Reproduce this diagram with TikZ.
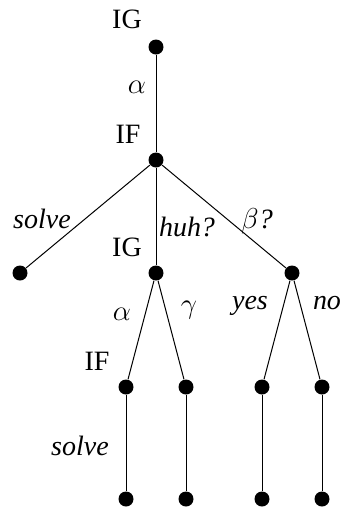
\documentclass[tikz,border=0pt]{standalone}
\usepackage{fontspec}
\setmainfont{Liberation Serif}
\begin{document}
\begin{tikzpicture}[x=0.5pt, y=-0.5pt, line width=0.5pt,
  punto/.style={circle, fill, inner sep=0pt, minimum size=7.5pt},
  etiq/.style={anchor=base, inner sep=0pt, font=\fontsize{14}{16}\selectfont}]
  \useasboundingbox (0,0) rectangle (342,510);
  % nodos
  \node[punto] (r) at (156,47) {};
  \node[punto] (a) at (156,160) {};
  \node[punto] (b1) at (20,273) {};
  \node[punto] (b2) at (156,273) {};
  \node[punto] (b3) at (292,273) {};
  \node[punto] (c1) at (126,387) {};
  \node[punto] (c2) at (186,387) {};
  \node[punto] (c3) at (262,387) {};
  \node[punto] (c4) at (322,387) {};
  \node[punto] (d1) at (126,499) {};
  \node[punto] (d2) at (186,499) {};
  \node[punto] (d3) at (262,499) {};
  \node[punto] (d4) at (322,499) {};
  % aristas
  \draw (r) -- (a);
  \draw (a) -- (b1);
  \draw (a) -- (b2);
  \draw (a) -- (b3);
  \draw (b2) -- (c1);
  \draw (b2) -- (c2);
  \draw (b3) -- (c3);
  \draw (b3) -- (c4);
  \draw (c1) -- (d1);
  \draw (c2) -- (d2);
  \draw (c3) -- (d3);
  \draw (c4) -- (d4);
  % etiquetas
  \node[etiq] (ig1) at (127,28) {IG};
  \node[etiq] (al1) at (137,93) {$\alpha$};
  \node[etiq] (if1) at (128,143) {IF};
  \node[etiq] (so1) at (42,228) {\textit{solve}};
  \node[etiq] (huh) at (187,236) {\textit{huh?}};
  \node[etiq] (be) at (257,228) {$\beta$\textit{?}};
  \node[etiq] (ig2) at (127,256) {IG};
  \node[etiq] (al2) at (122,320) {$\alpha$};
  \node[etiq] (ga) at (189,313) {$\gamma$};
  \node[etiq] (yes) at (250,309) {\textit{yes}};
  \node[etiq] (no) at (327,309) {\textit{no}};
  \node[etiq] (if2) at (97,370) {IF};
  \node[etiq] (so2) at (80,455) {\textit{solve}};
\end{tikzpicture}
\end{document}
